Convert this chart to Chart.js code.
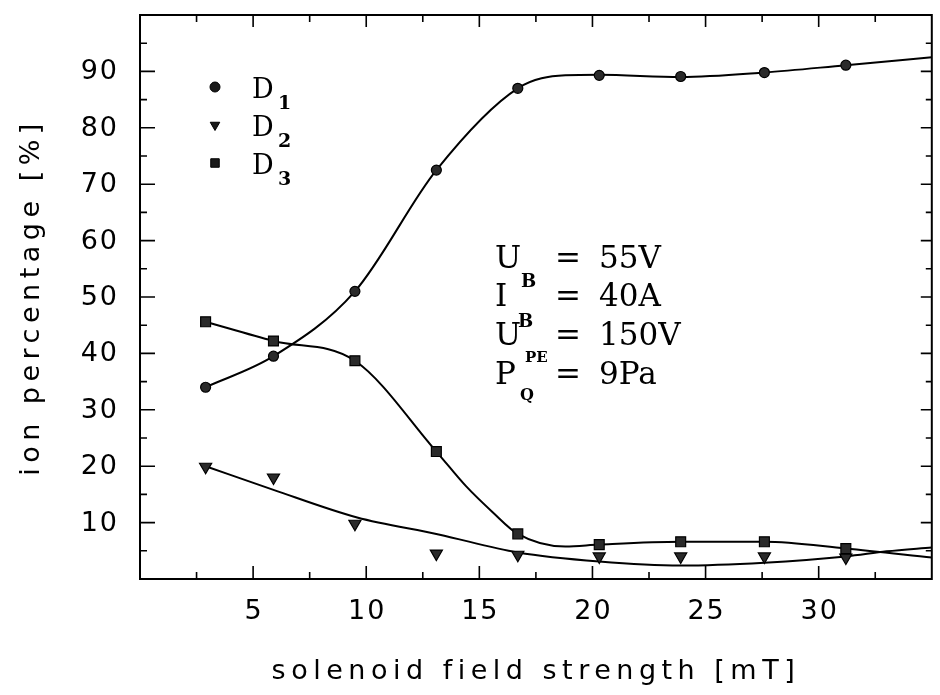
<!DOCTYPE html>
<html>
<head>
<meta charset="utf-8">
<script src="https://cdn.jsdelivr.net/npm/chart.js@4.4.1/dist/chart.umd.min.js"></script>
<style>
  html, body { margin: 0; padding: 0; background: #fff; }
  #wrap { width: 940px; height: 695px; }
</style>
</head>
<body>
<div id="wrap"><canvas id="ionChart" width="940" height="695"></canvas></div>
<script>
// measured field settings [mT]
const fieldStrength = [2.9, 5.9, 9.5, 13.1, 16.7, 20.3, 23.9, 27.6, 31.2];

// ion fractions [%]
const d1Values = [34.0, 39.5, 51.0, 72.5, 87.0, 89.3, 89.1, 89.8, 91.1];
const d2Values = [19.9, 18.0, 9.8, 4.5, 4.3, 4.0, 4.0, 4.0, 3.8];
const d3Values = [45.6, 42.2, 38.7, 22.6, 8.0, 6.1, 6.6, 6.6, 5.4];

// fitted curves
const d1CurveX = [2.9, 5.9, 9.5, 13.1, 16.7, 18.8, 20.3, 23.9, 27.6, 31.2, 35];
const d1CurveY = [34.0, 39.5, 51.0, 72.5, 87.0, 89.3, 89.4, 89.0, 89.8, 91.1, 92.5];
const d2CurveX = [2.9, 5.9, 9.6, 13.2, 16.7, 20.3, 23.9, 27.6, 31.2, 33.0, 35];
const d2CurveY = [20.0, 15.8, 10.9, 7.9, 4.7, 3.1, 2.4, 2.9, 4.0, 4.9, 5.6];
const d3CurveX = [2.9, 5.9, 9.5, 13.1, 14.4, 15.6, 16.7, 18.8, 20.3, 23.9, 27.6, 31.2, 35];
const d3CurveY = [45.6, 42.2, 38.7, 22.6, 16.5, 11.8, 8.0, 5.75, 6.1, 6.6, 6.6, 5.4, 3.8];

const xTicks = [5, 10, 15, 20, 25, 30];
const yTicks = [10, 20, 30, 40, 50, 60, 70, 80, 90];

const toPoints = (xs, ys) => xs.map((x, i) => ({ x: x, y: ys[i] }));

const SANS = "'DejaVu Sans', sans-serif";
const SERIF = "'DejaVu Serif', serif";

function markerSet(values, style, radius) {
    return {
        data: toPoints(fieldStrength, values),
        showLine: false,
        pointStyle: style,
        pointRadius: radius,
        pointRotation: style === 'triangle' ? 180 : 0,
        pointBackgroundColor: '#2a2a2a',
        pointBorderColor: '#000',
        pointBorderWidth: 1.2
    };
}

function curveSet(xs, ys) {
    return {
        data: toPoints(xs, ys),
        showLine: true,
        pointRadius: 0,
        borderColor: '#000',
        borderWidth: 2,
        cubicInterpolationMode: 'monotone',
        fill: false
    };
}

// wide lettering for the axis titles
const spacing = {
    id: 'spacing',
    beforeDraw(chart) {
        chart.ctx.letterSpacing = '5.5px';
    }
};

// box with inward ticks on all four sides, plus the tick numbers
const frameTicks = {
    id: 'frameTicks',
    afterDatasetsDraw(chart) {
        const { ctx, chartArea: a, scales: { x, y } } = chart;
        ctx.save();
        ctx.strokeStyle = '#000';
        ctx.lineWidth = 2;
        ctx.strokeRect(a.left, a.top, a.right - a.left, a.bottom - a.top);
        ctx.lineWidth = 1.6;
        ctx.beginPath();
        for (let v = 2.5; v < 35; v += 2.5) {
            const px = x.getPixelForValue(v);
            const major = v % 5 === 0;
            ctx.moveTo(px, a.bottom); ctx.lineTo(px, a.bottom - (major ? 13 : 7));
            ctx.moveTo(px, a.top); ctx.lineTo(px, a.top + (major ? 12 : 7));
        }
        for (let v = 5; v < 100; v += 5) {
            const py = y.getPixelForValue(v);
            const major = v % 10 === 0;
            ctx.moveTo(a.left, py); ctx.lineTo(a.left + (major ? 15 : 7), py);
            ctx.moveTo(a.right, py); ctx.lineTo(a.right - (major ? 11 : 6), py);
        }
        ctx.stroke();

        ctx.letterSpacing = '2px';
        ctx.fillStyle = '#000';
        ctx.font = '27px ' + SANS;
        ctx.textBaseline = 'middle';
        ctx.textAlign = 'right';
        yTicks.forEach(v => ctx.fillText(String(v), a.left - 21, y.getPixelForValue(v) + 1));
        ctx.textAlign = 'center';
        xTicks.forEach(v => ctx.fillText(String(v), x.getPixelForValue(v) + 1, a.bottom + 33));
        ctx.restore();
    }
};

// key and run parameters
const notes = {
    id: 'notes',
    afterDraw(chart) {
        const ctx = chart.ctx;
        ctx.save();
        ctx.letterSpacing = '0px';
        ctx.fillStyle = '#000';
        ctx.textAlign = 'left';
        ctx.textBaseline = 'alphabetic';

        const keys = [
            { style: 'circle', r: 5, rot: 0, y: 87, sub: '1' },
            { style: 'triangle', r: 5.5, rot: 180, y: 125, sub: '2' },
            { style: 'rect', r: 6, rot: 0, y: 163, sub: '3' }
        ];
        keys.forEach(k => {
            ctx.fillStyle = '#1a1a1a';
            ctx.strokeStyle = '#000';
            ctx.lineWidth = 1;
            Chart.helpers.drawPoint(ctx, { pointStyle: k.style, radius: k.r, rotation: k.rot, borderWidth: 1 }, 215, k.y);
            ctx.fillStyle = '#000';
            ctx.font = '27px ' + SERIF;
            ctx.fillText('D', 252, k.y + 11);
            ctx.font = 'bold 19px ' + SERIF;
            ctx.fillText(k.sub, 278, k.y + 22);
        });

        const rows = [
            { sym: 'U', sub: 'B', val: '55V', base: 268, subX: 521, subDy: 19, subSize: 18 },
            { sym: 'I', sub: 'B', val: '40A', base: 306, subX: 518, subDy: 21, subSize: 18 },
            { sym: 'U', sub: 'PE', val: '150V', base: 345, subX: 525, subDy: 17, subSize: 15 },
            { sym: 'P', sub: 'Q', val: '9Pa', base: 384, subX: 520, subDy: 16, subSize: 16 }
        ];
        rows.forEach(r => {
            ctx.font = '31px ' + SERIF;
            ctx.fillText(r.sym, 495, r.base);
            ctx.fillText('=', 555, r.base);
            ctx.fillText(r.val, 599, r.base);
            ctx.font = 'bold ' + r.subSize + 'px ' + SERIF;
            ctx.fillText(r.sub, r.subX, r.base + r.subDy);
        });
        ctx.restore();
    }
};

Chart.defaults.color = '#000';
Chart.defaults.font.family = SANS;

new Chart(document.getElementById('ionChart'), {
    type: 'scatter',
    data: {
        datasets: [
            markerSet(d1Values, 'circle', 5),
            markerSet(d2Values, 'triangle', 7),
            markerSet(d3Values, 'rect', 7),
            curveSet(d1CurveX, d1CurveY),
            curveSet(d2CurveX, d2CurveY),
            curveSet(d3CurveX, d3CurveY)
        ]
    },
    options: {
        responsive: false,
        animation: false,
        devicePixelRatio: 1,
        layout: { padding: { top: 15, right: 5, left: 0, bottom: 0 } },
        plugins: {
            legend: { display: false },
            tooltip: { enabled: false }
        },
        scales: {
            x: {
                type: 'linear',
                min: 0,
                max: 35,
                grid: { display: false, drawTicks: false },
                border: { display: false },
                ticks: { display: false },
                afterFit: s => {
                    s.height = 116;
                    s.paddingLeft = 0;
                    s.paddingRight = 0;
                },
                title: {
                    display: true,
                    text: 'solenoid field strength [mT]',
                    font: { size: 27 },
                    padding: { top: 0, bottom: 7 }
                }
            },
            y: {
                type: 'linear',
                min: 0,
                max: 100,
                grid: { display: false, drawTicks: false },
                border: { display: false },
                ticks: { display: false },
                afterFit: s => {
                    s.width = 140;
                    s.paddingTop = 0;
                    s.paddingBottom = 0;
                },
                title: {
                    display: true,
                    text: 'ion percentage [%]',
                    font: { size: 27 },
                    padding: { top: 16, bottom: 0 }
                }
            }
        }
    },
    plugins: [spacing, frameTicks, notes]
});
</script>
</body>
</html>
